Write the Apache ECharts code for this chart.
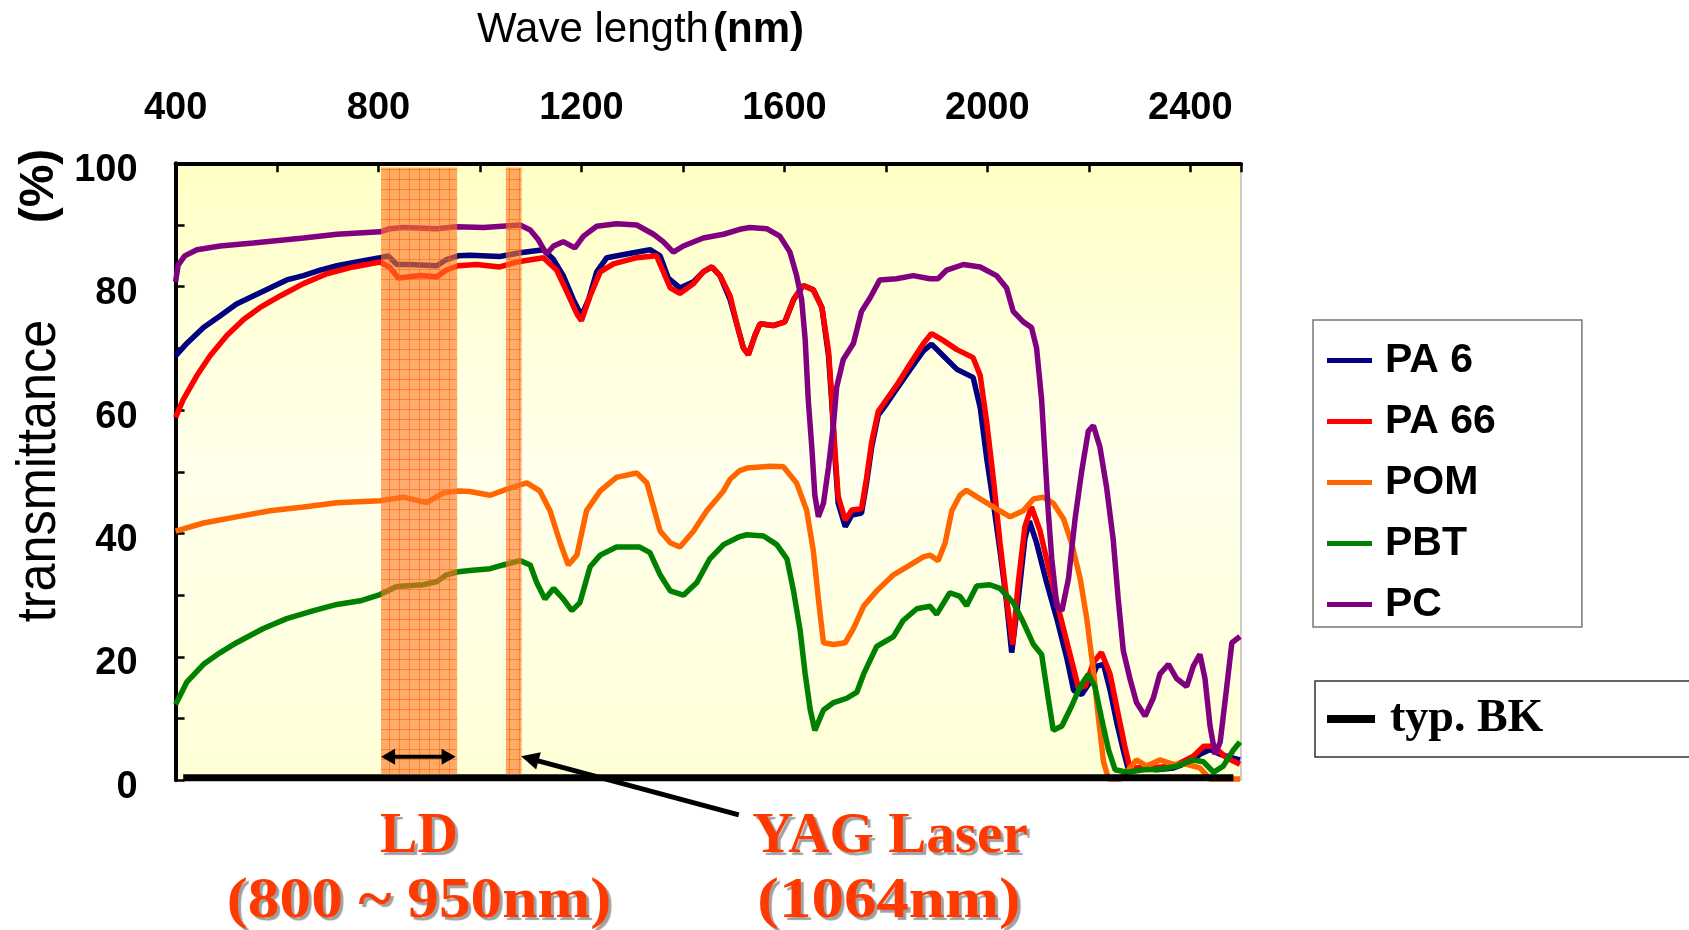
<!DOCTYPE html>
<html><head><meta charset="utf-8">
<script src="https://cdn.jsdelivr.net/npm/echarts@6/dist/echarts.min.js"></script>
<style>html,body{margin:0;padding:0;background:#fff}#c{width:1689px;height:930px}</style>
</head><body><div id="c"></div>
<script>
// ---------- data ----------
const seriesNames = ['PA 6', 'PA 66', 'POM', 'PBT', 'PC'];
const bkName = 'typ. BK';
const xLabelValues = [400, 800, 1200, 1600, 2000, 2400];
const yLabelValues = [0, 20, 40, 60, 80, 100];

const PA6 = [[400,68.8],[422,70.8],[455,73.4],[488,75.3],[520,77.2],[553,78.5],[586,79.8],[619,81.1],[652,81.8],[685,82.7],[718,83.4],[757,84],[803,84.7],[819,85],[836,83.6],[862,83.6],[915,83.4],[934,84.4],[957,85],[980,85.1],[1039,84.9],[1079,85.5],[1125,86],[1145,84.4],[1164,81.8],[1184,77.9],[1200,75.3],[1214,77.9],[1230,82.4],[1250,84.7],[1289,85.3],[1335,86],[1355,85],[1371,81.4],[1394,79.8],[1421,80.8],[1440,82.4],[1457,83.2],[1473,81.8],[1493,77.9],[1506,74],[1519,70.1],[1529,69],[1542,72.1],[1552,74],[1578,73.7],[1601,74.3],[1618,77.9],[1637,80.2],[1657,79.5],[1674,76.6],[1687,68.8],[1693,61.7],[1700,52],[1706,44.9],[1720,41.1],[1733,43],[1752,43.3],[1762,48.2],[1772,54],[1785,59.2],[1802,61.1],[1821,63.4],[1848,66.6],[1874,69.6],[1890,70.7],[1913,68.8],[1940,66.6],[1972,65.3],[1986,60.4],[1999,52],[2012,44.9],[2025,37.2],[2038,28.8],[2048,20.7],[2061,29.4],[2074,39.1],[2083,42],[2097,38.5],[2117,32],[2137,26.2],[2157,19.7],[2170,14.6],[2186,13.9],[2202,15.9],[2216,18.5],[2229,18.8],[2242,14.6],[2255,9.4],[2268,4.9],[2278,1.7],[2301,2],[2334,1.7],[2367,2],[2400,3],[2419,4.2],[2439,5],[2459,4.2],[2485,3.6],[2498,3.3]];

const PA66 = [[400,58.8],[415,61.7],[442,65.6],[468,68.8],[501,72.1],[534,74.7],[566,76.6],[606,78.5],[652,80.5],[698,82.1],[750,83.2],[803,84],[823,83.1],[839,81.4],[882,81.8],[915,81.6],[934,82.7],[957,83.4],[993,83.6],[1039,83.2],[1072,84],[1125,84.7],[1151,82.7],[1171,79.2],[1191,75.6],[1200,74.5],[1217,78.5],[1237,82.4],[1263,83.7],[1309,84.7],[1348,85],[1375,79.8],[1394,78.9],[1421,80.5],[1440,82.4],[1457,83.2],[1473,81.8],[1493,78.5],[1506,74],[1519,70.1],[1529,69],[1542,72.1],[1552,74],[1578,73.7],[1601,74.3],[1618,77.9],[1637,80.2],[1657,79.5],[1674,76.6],[1687,69.5],[1693,62.5],[1700,53],[1706,46],[1720,42.2],[1733,43.8],[1752,44],[1762,49],[1772,54.8],[1785,59.8],[1802,61.8],[1821,64],[1848,67.5],[1874,70.8],[1890,72.4],[1913,71.3],[1940,69.8],[1972,68.5],[1986,65.6],[1999,57.9],[2012,48.8],[2025,38.5],[2038,29.4],[2050,22],[2061,32],[2074,41.1],[2087,44.3],[2104,40.4],[2124,33.3],[2143,26.9],[2163,20.4],[2179,15.2],[2193,15.2],[2209,19.1],[2225,20.7],[2242,17.2],[2258,10.7],[2271,5.5],[2281,2],[2321,2],[2367,2.3],[2406,3.9],[2426,5.5],[2446,5.5],[2472,3.6],[2498,2.6]];

const POM = [[400,40.4],[455,41.7],[520,42.7],[586,43.7],[652,44.3],[718,45],[803,45.3],[849,45.9],[895,45],[928,46.6],[957,46.9],[980,46.8],[1020,46.2],[1053,47.2],[1092,48.2],[1118,46.9],[1138,43.7],[1158,38.5],[1174,34.9],[1191,36.5],[1210,43.7],[1237,46.9],[1269,49.1],[1309,49.8],[1329,48.2],[1342,44.3],[1355,40.4],[1375,38.5],[1394,37.8],[1421,40.4],[1447,43.7],[1480,46.9],[1493,48.8],[1512,50.2],[1526,50.6],[1572,50.9],[1598,50.8],[1624,48.2],[1644,43.7],[1657,37.2],[1667,29.4],[1677,22.3],[1697,22],[1720,22.3],[1736,24.6],[1756,28.2],[1782,30.7],[1815,33.3],[1848,34.9],[1874,36.2],[1887,36.5],[1903,35.6],[1917,38.5],[1930,43.7],[1946,46.2],[1959,47],[1986,45.6],[2018,44],[2045,42.7],[2071,43.7],[2091,45.6],[2110,45.9],[2130,44.9],[2150,42.4],[2166,38.5],[2183,32.7],[2196,26.2],[2209,17.8],[2219,10.1],[2229,3],[2239,0.2],[2262,0.2],[2278,1.7],[2294,3.3],[2314,2.3],[2340,3.3],[2367,2.6],[2393,2.6],[2419,2],[2439,0.2],[2498,0.2]];

const PBT = [[400,12.3],[422,15.9],[455,18.8],[488,20.7],[520,22.3],[573,24.6],[619,26.2],[672,27.5],[718,28.5],[764,29.1],[803,30.1],[836,31.4],[888,31.7],[915,32.2],[934,33.3],[957,33.8],[980,34],[1020,34.3],[1046,34.9],[1079,35.6],[1099,34.9],[1112,32],[1128,29.4],[1145,31.1],[1164,29.4],[1181,27.5],[1197,28.8],[1217,34.6],[1237,36.5],[1269,37.8],[1315,37.8],[1335,36.9],[1355,33.3],[1375,30.7],[1401,30],[1427,32],[1453,35.9],[1480,38.2],[1512,39.5],[1526,39.8],[1559,39.6],[1585,38.2],[1605,35.9],[1618,30.7],[1631,24.3],[1641,17.2],[1651,11.4],[1660,8.1],[1677,11.4],[1697,12.6],[1723,13.3],[1743,14.3],[1756,17.2],[1782,21.7],[1815,23.3],[1834,25.9],[1861,27.8],[1887,28.2],[1900,26.9],[1926,30.4],[1946,29.8],[1959,28.3],[1979,31.5],[2005,31.7],[2025,31.1],[2051,28.8],[2071,25.6],[2091,22],[2107,20.4],[2120,13.3],[2130,8.1],[2147,8.8],[2166,12],[2183,15.2],[2199,17.2],[2212,15.2],[2225,10.1],[2239,4.9],[2252,1.7],[2275,1.3],[2308,1.7],[2340,1.8],[2373,2.3],[2406,3.3],[2426,3],[2446,1.3],[2465,2.3],[2485,4.9],[2498,6.2]];

const PC = [[400,80.8],[405,83.5],[418,85],[442,86],[488,86.6],[553,87.1],[652,87.9],[718,88.5],[803,88.9],[823,89.4],[849,89.6],[915,89.4],[954,89.7],[1007,89.6],[1079,90.0],[1099,89.2],[1115,87.6],[1131,85.3],[1145,86.6],[1164,87.3],[1187,86.3],[1204,88.2],[1230,89.8],[1269,90.2],[1309,90],[1342,88.5],[1361,87.3],[1381,85.6],[1401,86.6],[1440,87.9],[1480,88.5],[1512,89.3],[1532,89.6],[1565,89.4],[1591,88.2],[1611,85.6],[1624,81.8],[1634,77.9],[1641,71.4],[1647,61.7],[1654,54],[1660,46.2],[1667,42.7],[1677,44.9],[1687,50.8],[1697,57.9],[1703,63.7],[1716,68.2],[1736,70.8],[1752,76],[1769,78.2],[1788,81.1],[1821,81.3],[1854,81.8],[1887,81.3],[1903,81.3],[1920,82.7],[1953,83.6],[1986,83.2],[2018,81.8],[2038,79.8],[2051,76],[2071,74.3],[2087,73.4],[2097,70.1],[2107,61.7],[2114,52],[2120,43.7],[2127,35.9],[2137,28.2],[2147,27.5],[2160,32.7],[2173,42.4],[2186,50.1],[2199,56.6],[2209,57.5],[2222,54],[2235,47.5],[2248,39.1],[2258,29.4],[2268,21],[2281,16.5],[2294,12.6],[2311,10.4],[2327,13.3],[2340,17.2],[2357,18.8],[2373,16.5],[2393,15.2],[2406,18.5],[2419,20.4],[2429,16.5],[2439,8.8],[2449,4.2],[2459,6.2],[2472,15.2],[2482,22.3],[2498,23.3]];

const BK = [[415,0.4],[2485,0.4]];

// highlighted wavelength bands [start, end, low, high]
const bands = [[805, 955, 1, 99.3], [1051, 1082, 1, 99.3]];
// annotation arrows (data coords)
const ldArrow = [[805, 3.8], [952, 3.8]];
const yagArrow = [[1510, -5.6], [1081, 3.9]];

// ---------- chart ----------
const colors = ['#000080', '#FF0000', '#FF6600', '#008000', '#800080'];
const seriesData = [PA6, PA66, POM, PBT, PC];
const SANS = '"Liberation Sans", Arial, sans-serif';
const SERIF = '"Liberation Serif", "Times New Roman", serif';

// orange grid pattern
const pc = document.createElement('canvas');
pc.width = 10; pc.height = 10;
const g = pc.getContext('2d');
g.fillStyle = 'rgba(255,120,35,0.62)';
g.fillRect(0, 0, 10, 10);
g.fillStyle = 'rgba(255,95,10,0.55)';
g.fillRect(9, 0, 1, 10);
g.fillRect(0, 9, 10, 1);

const chart = echarts.init(document.getElementById('c'), null, {renderer: 'canvas'});

const lineSeries = seriesNames.map((n, i) => ({
  name: n, type: 'line', data: seriesData[i], showSymbol: false, symbol: 'none',
  color: colors[i], lineStyle: {width: 5.5, color: colors[i]}, z: 2 + i * 0.1,
  animation: false, silent: true
}));

const option = {
  animation: false,
  backgroundColor: '#fff',
  grid: {
    left: 175.6, top: 163.3, width: 1065.4, height: 617,
    show: true, borderColor: '#9a9a9a', borderWidth: 1,
    backgroundColor: new echarts.graphic.LinearGradient(0, 0, 0, 1, [
      {offset: 0, color: '#FFFFC4'}, {offset: 0.5, color: '#FFFFEC'}, {offset: 1, color: '#FFFFD6'}
    ])
  },
  xAxis: {
    type: 'value', position: 'top', min: 400, max: 2500, interval: 200,
    axisLine: {show: true, onZero: false, lineStyle: {color: '#000', width: 4}},
    axisTick: {show: true, inside: true, length: 9, lineStyle: {color: '#000', width: 2.5}},
    axisLabel: {
      margin: 36, color: '#000', fontSize: 38, fontWeight: 'bold', fontFamily: SANS,
      formatter: v => xLabelValues.includes(v) ? String(v) : ''
    },
    splitLine: {show: false}
  },
  yAxis: {
    type: 'value', min: 0, max: 100, interval: 10,
    axisLine: {show: true, onZero: false, lineStyle: {color: '#000', width: 4}},
    axisTick: {show: true, inside: true, length: 9, lineStyle: {color: '#000', width: 2.5}},
    axisLabel: {
      margin: 38, color: '#000', fontSize: 38, fontWeight: 'bold', fontFamily: SANS,
      verticalAlign: 'top', lineHeight: 14,
      formatter: v => yLabelValues.includes(v) ? String(v) : ''
    },
    splitLine: {show: false}
  },
  legend: [{
    data: seriesNames, orient: 'vertical', left: 1313, top: 320,
    padding: [18, 86, 0, 14], itemGap: 16, itemWidth: 45, itemHeight: 5,
    icon: 'rect', selectedMode: false,
    backgroundColor: '#fff', borderColor: '#777', borderWidth: 1.5,
    itemStyle: {borderWidth: 0},
    textStyle: {fontSize: 41, fontWeight: 'bold', fontFamily: SANS, color: '#000', lineHeight: 41, padding: [4, 0, 0, 8]}
  }, {
    data: [bkName], orient: 'vertical', left: 1315, top: 681,
    padding: [15, 200, 15, 12], itemWidth: 48, itemHeight: 8,
    icon: 'rect', selectedMode: false,
    backgroundColor: '#fff', borderColor: '#333', borderWidth: 1.5,
    itemStyle: {borderWidth: 0},
    textStyle: {fontSize: 46, fontWeight: 'bold', fontFamily: SERIF, color: '#000', lineHeight: 46, padding: [0, 0, 0, 10]}
  }],
  series: lineSeries.concat([
    {
      name: bkName, type: 'line', data: BK, showSymbol: false, symbol: 'none', color: '#000',
      lineStyle: {width: 7, color: '#000'}, z: 4, silent: true
    },
    {
      type: 'custom', data: bands, z: 6, silent: true,
      renderItem: (params, api) => {
        const p0 = api.coord([api.value(0), api.value(3)]);
        const p1 = api.coord([api.value(1), api.value(2)]);
        return {type: 'rect', shape: {x: p0[0], y: p0[1], width: p1[0] - p0[0], height: p1[1] - p0[1]},
          style: {fill: {image: pc, repeat: 'repeat'}}};
      },
      encode: {x: [0, 1], y: [2, 3]}
    }
  ])
};
chart.setOption(option);

// ---------- annotations ----------
const toPx = p => chart.convertToPixel({gridIndex: 0}, p);
function head(tip, from, len, half) {
  const dx = tip[0] - from[0], dy = tip[1] - from[1];
  const L = Math.hypot(dx, dy); const ux = dx / L, uy = dy / L;
  const bx = tip[0] - ux * len, by = tip[1] - uy * len;
  return [tip, [bx - uy * half, by + ux * half], [bx + uy * half, by - ux * half]];
}
const la = toPx(ldArrow[0]), lb = toPx(ldArrow[1]);
const ya = toPx(yagArrow[0]), yb = toPx(yagArrow[1]);
const RED = '#FF3A00';
const shadowTxt = {textShadowColor: 'rgba(120,120,120,0.7)', textShadowOffsetX: 3, textShadowOffsetY: 3, textShadowBlur: 1};
const txt = (text, x, y, sx, font, fill, extra) => ({
  type: 'text', x: x, y: y, scaleX: sx, silent: true, z: 20,
  style: Object.assign({text: text, font: font, fill: fill, textAlign: 'center', align: 'center',
    textVerticalAlign: 'middle', verticalAlign: 'middle'}, extra || {})
});
const graphics = [
  {type: 'line', z: 20, silent: true, shape: {x1: la[0] + 10, y1: la[1], x2: lb[0] - 10, y2: lb[1]}, style: {stroke: '#000', lineWidth: 4}},
  {type: 'polygon', z: 20, silent: true, shape: {points: head(la, lb, 14, 8)}, style: {fill: '#000'}},
  {type: 'polygon', z: 20, silent: true, shape: {points: head(lb, la, 14, 8)}, style: {fill: '#000'}},
  {type: 'line', z: 20, silent: true, shape: {x1: ya[0], y1: ya[1], x2: yb[0] + (ya[0] - yb[0]) * 0.04, y2: yb[1] + (ya[1] - yb[1]) * 0.04}, style: {stroke: '#000', lineWidth: 5}},
  {type: 'polygon', z: 20, silent: true, shape: {points: head(yb, ya, 18, 9)}, style: {fill: '#000'}},
  txt('LD', 419, 838, 1, 'bold 56px ' + SERIF, RED, shadowTxt),
  txt('(800 ~ 950nm)', 419, 903, 1.13, 'bold 56px ' + SERIF, RED, shadowTxt),
  txt('YAG Laser', 890, 838, 1.02, 'bold 56px ' + SERIF, RED, shadowTxt),
  txt('(1064nm)', 889, 903, 1.16, 'bold 56px ' + SERIF, RED, shadowTxt),
  {type: 'text', x: 477, y: 30, silent: true, z: 20,
    style: {text: 'Wave length', font: '42px ' + SANS, fill: '#000', textAlign: 'left', align: 'left', textVerticalAlign: 'middle', verticalAlign: 'middle'}},
  {type: 'text', x: 713, y: 30, silent: true, z: 20,
    style: {text: '(nm)', font: 'bold 42px ' + SANS, fill: '#000', textAlign: 'left', align: 'left', textVerticalAlign: 'middle', verticalAlign: 'middle'}},
  {type: 'text', x: 40, y: 471, rotation: Math.PI / 2, scaleX: 0.9, silent: true, z: 20,
    style: {text: 'transmittance', font: '56px ' + SANS, fill: '#000', textAlign: 'center', align: 'center', textVerticalAlign: 'middle', verticalAlign: 'middle',
      textShadowColor: 'rgba(130,130,130,0.6)', textShadowOffsetX: -3, textShadowOffsetY: 2}},
  {type: 'text', x: 40, y: 186, rotation: Math.PI / 2, silent: true, z: 20,
    style: {text: '(%)', font: 'bold 48px ' + SANS, fill: '#000', textAlign: 'center', align: 'center', textVerticalAlign: 'middle', verticalAlign: 'middle'}}
];
chart.setOption({graphic: graphics});
</script></body></html>
